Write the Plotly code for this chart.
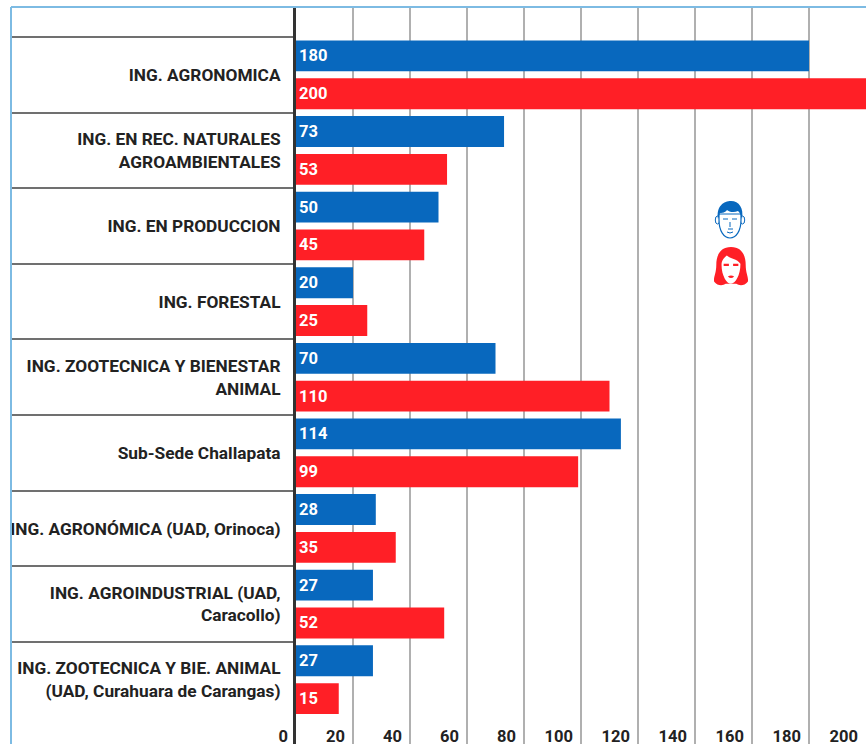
import base64
import plotly.graph_objects as go

categories = [
    "ING. AGRONOMICA",
    "ING. EN REC. NATURALES<br>AGROAMBIENTALES",
    "ING. EN PRODUCCION",
    "ING. FORESTAL",
    "ING. ZOOTECNICA Y BIENESTAR<br>ANIMAL",
    "Sub-Sede Challapata",
    "ING. AGRONÓMICA (UAD, Orinoca)",
    "ING. AGROINDUSTRIAL (UAD,<br>Caracollo)",
    "ING. ZOOTECNICA Y BIE. ANIMAL<br>(UAD, Curahuara de Carangas)",
]
hombres = [180, 73, 50, 20, 70, 114, 28, 27, 27]
mujeres = [200, 53, 45, 25, 110, 99, 35, 52, 15]
x_ticks = [0, 20, 40, 60, 80, 100, 120, 140, 160, 180, 200]

BLUE = "#0868BE"
RED = "#FF1F26"
FONT = "Roboto"

def svg_uri(svg):
    return "data:image/svg+xml;base64," + base64.b64encode(svg.encode()).decode()

man = f'''<svg xmlns="http://www.w3.org/2000/svg" viewBox="0 0 32 40">
<ellipse cx="3.5" cy="20" rx="2.2" ry="4" fill="#fff" stroke="{BLUE}" stroke-width="1"/>
<ellipse cx="28.5" cy="20" rx="2.2" ry="4" fill="#fff" stroke="{BLUE}" stroke-width="1"/>
<path d="M5 20 C5 31 10 38 16 38 C22 38 27 31 27 20 L27 14 L5 14 Z" fill="#fff" stroke="{BLUE}" stroke-width="1.2"/>
<path d="M4 19 C2 6 10 1 17 1 C25 1 30 8 28 19 C27 15 26 13 24 11 C20 13 15 12 13 10 C11 13 7 13 6 13 C5 15 4.5 17 4 19 Z" fill="{BLUE}"/>
<path d="M9 19 h5 M18 19 h5 M14 29 h5 M13 32 q3 2 6 0 M16 22 v5" stroke="{BLUE}" stroke-width="1" fill="none"/>
</svg>'''
woman = f'''<svg xmlns="http://www.w3.org/2000/svg" viewBox="0 0 36 40">
<path d="M18 1 C7 1 4 10 4 18 C4 26 1 30 2 34 C5 38 10 38 13 36 L23 36 C26 38 31 38 34 34 C35 30 32 26 32 18 C32 10 29 1 18 1 Z" fill="{RED}"/>
<path d="M9 18 C9 13 12 11 14 9 C17 12 24 12 27 17 C27 28 22 36 18 36 C14 36 9 28 9 18 Z" fill="#fff"/>
<path d="M11 18 h5 M20 18 h5" stroke="{RED}" stroke-width="2" fill="none"/>
<path d="M15 29 q3 -2 6 0 q-3 3 -6 0" fill="{RED}"/>
</svg>'''

fig = go.Figure()
for values, color in ((hombres, BLUE), (mujeres, RED)):
    fig.add_trace(go.Bar(
        y=categories, x=values, orientation="h", marker=dict(color=color, line_width=0),
        text=values, textposition="inside", insidetextanchor="start", textangle=0,
        insidetextfont=dict(family=FONT, size=16.5, color="white", weight="bold"),
        constraintext="none", cliponaxis=True, showlegend=False,
    ))

W, H = 866, 744
L, T = 296, 7
fig.update_layout(
    width=W, height=H, margin=dict(l=L, r=0, t=T, b=0),
    paper_bgcolor="white", plot_bgcolor="white",
    barmode="group", bargap=0, bargroupgap=0.184,
    font=dict(family=FONT, size=14, color="#222222"),
    xaxis=dict(
        range=[0, 200], tickmode="array", tickvals=x_ticks, ticktext=[str(v) for v in x_ticks],
        side="bottom", ticklabelposition="outside left", ticks="", ticklabelstandoff=-20,
        ticklabelshift=-8, automargin=False,
        tickfont=dict(family=FONT, size=16.5, color="#222222", weight="bold"),
        showgrid=True, gridcolor="#B0B0B0", gridwidth=2, zeroline=False, showline=False,
    ),
    yaxis=dict(
        categoryorder="array", categoryarray=categories,
        range=[8.851, -0.897], tickson="boundaries", automargin=False,
        ticks="outside", ticklen=283, tickwidth=2, tickcolor="#707070",
        ticklabelstandoff=9,
        tickfont=dict(family=FONT, size=17.3, color="#222222", weight="bold"),
        showgrid=False, zeroline=False, showline=True, linecolor="#333333", linewidth=3,
    ),
    images=[
        dict(source=svg_uri(man), xref="paper", yref="paper", x=(730 - L) / (W - L), y=1 - (220 - T) / (H - T),
             sizex=32 / (W - L), sizey=40 / (H - T), xanchor="center", yanchor="middle", sizing="contain", layer="above"),
        dict(source=svg_uri(woman), xref="paper", yref="paper", x=(731 - L) / (W - L), y=1 - (267 - T) / (H - T),
             sizex=38 / (W - L), sizey=42 / (H - T), xanchor="center", yanchor="middle", sizing="contain", layer="above"),
    ],
    shapes=[
        dict(type="line", xref="paper", yref="paper", x0=(11 - L) / (W - L), x1=1, y0=1, y1=1,
             line=dict(color="#7DBBE3", width=2)),
        dict(type="line", xref="paper", yref="paper", x0=(11 - L) / (W - L), x1=(11 - L) / (W - L), y0=0, y1=1,
             line=dict(color="#7DBBE3", width=2)),
    ],
)
fig.write_html("out.html", config={"displayModeBar": False}, post_script="document.body.style.margin='0';")
